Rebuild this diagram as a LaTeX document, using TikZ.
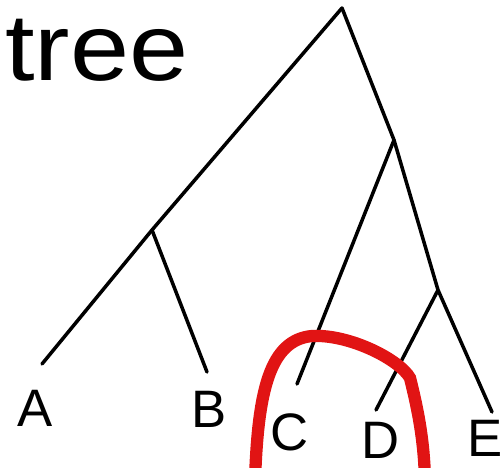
\documentclass[tikz,border=0pt]{standalone}
\usepackage{fontspec}
\setmainfont{Liberation Sans}
\usepackage{tikz}
\usetikzlibrary{
  positioning
}
\definecolor{marker}{RGB}{225, 20, 20}

\begin{document}
\begin{tikzpicture}[
  x=0.02cm, y=-0.02cm,
  branch/.style={draw=black, line width=2pt, line cap=round, line join=round},
  leaf/.style={font=\fontsize{30}{30}\selectfont, text=black, inner sep=0pt},
  ring/.style={draw=marker, line width=7pt, line cap=round}
]
\useasboundingbox (0,0) rectangle (503,467);

% Title
\node[font=\fontsize{54}{54}\selectfont, xscale=1.12] (title) at (97,50) {tree};

% Branch points and leaf ends
\coordinate (root) at (342,8);
\coordinate (ab) at (152,230);
\coordinate (cde) at (394,140);
\coordinate (de) at (438,290);
\coordinate (a) at (42,364);
\coordinate (b) at (207,372);
\coordinate (c) at (297,384);
\coordinate (d) at (376,410);
\coordinate (e) at (492,412);

% Branches
\draw[branch] (root) -- (ab) -- (a);
\draw[branch] (ab) -- (b);
\draw[branch] (root) -- (cde) -- (de) -- (e);
\draw[branch] (cde) -- (c);
\draw[branch] (de) -- (d);

% Leaf labels
\node[leaf] (la) at (35,408) {A};
\node[leaf] (lb) at (209,409) {B};
\node[leaf] (lc) at (290,432) {C};
\node[leaf] (ld) at (381,440) {D};
\node[leaf] (le) at (485,438) {E};

% Red clade outline
\begin{scope}
\clip (0,0) rectangle (503,467);
\draw[ring] (255,480) .. controls (258,390) and (270,340) .. (312,336)
  .. controls (350,334) and (400,360) .. (410,378)
  .. controls (418,410) and (424,440) .. (425,480);
\end{scope}

\end{tikzpicture}
\end{document}
